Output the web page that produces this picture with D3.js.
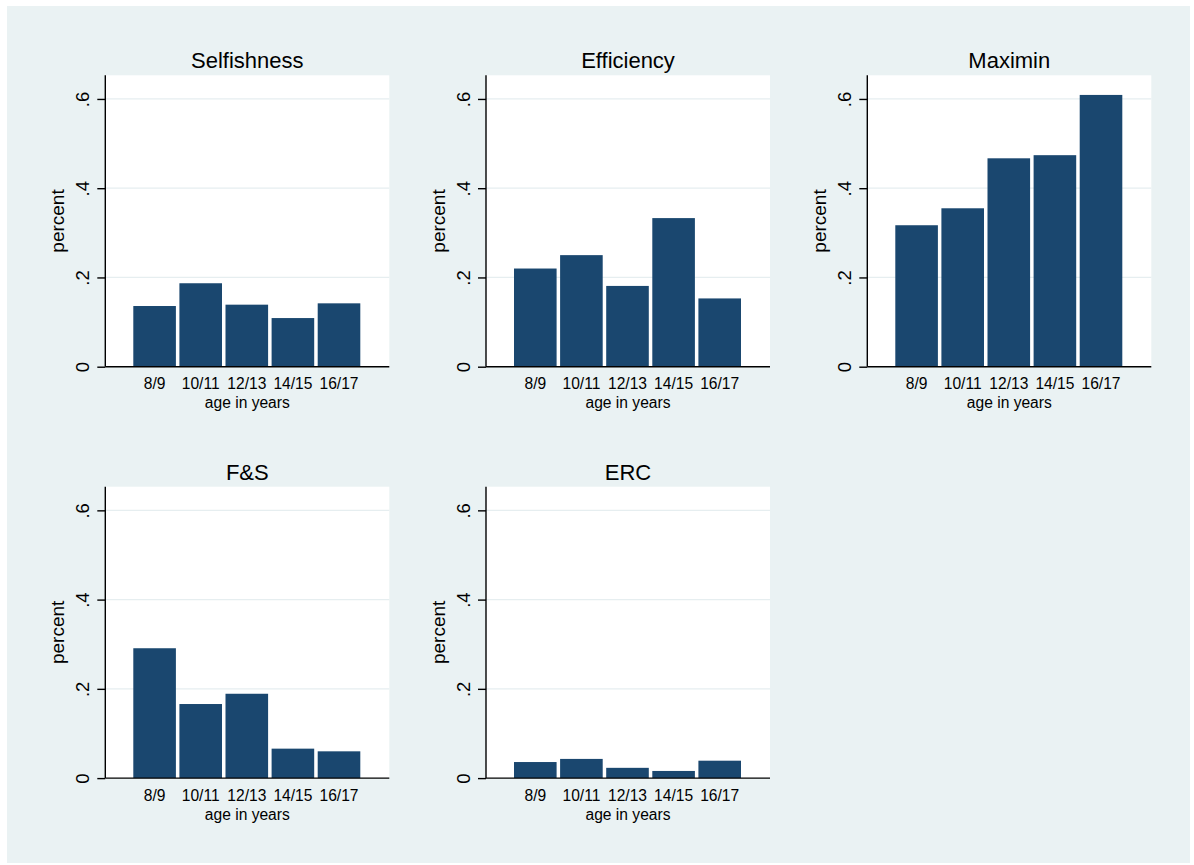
<!DOCTYPE html>
<html>
<head>
<meta charset="utf-8">
<script src="https://cdnjs.cloudflare.com/ajax/libs/d3/7.8.5/d3.min.js"></script>
<style>
body { margin: 0; background: #ffffff; }
text { font-family: "Liberation Sans", Arial, sans-serif; fill: #000; }
</style>
</head>
<body>
<div id="chart"></div>
<script>
var categories = ["8/9", "10/11", "12/13", "14/15", "16/17"];
var panelTitles = ["Selfishness", "Efficiency", "Maximin", "F&S", "ERC"];
var selfishness = [0.136, 0.187, 0.139, 0.109, 0.142];
var efficiency = [0.220, 0.250, 0.181, 0.333, 0.153];
var maximin = [0.317, 0.355, 0.467, 0.474, 0.609];
var fs = [0.291, 0.166, 0.189, 0.066, 0.060];
var erc = [0.036, 0.043, 0.023, 0.016, 0.039];
var yTicks = [0, 0.2, 0.4, 0.6];
var yTickLabels = ["0", ".2", ".4", ".6"];

var series = [selfishness, efficiency, maximin, fs, erc];

var width = 1194, height = 865;
var plotW = 284, plotH = 291.4;
var colX = [105.3, 486, 867.3];
var rowY = [75.3, 486.7];

var svg = d3.select("#chart").append("svg")
  .attr("width", width)
  .attr("height", height);

// graph region
svg.append("rect")
  .attr("x", 7)
  .attr("y", 6)
  .attr("width", 1183)
  .attr("height", 857)
  .attr("fill", "#eaf2f3");

var x = d3.scaleBand()
  .domain(categories)
  .range([28, 255])
  .paddingInner(0.076)
  .paddingOuter(0);

var y = d3.scaleLinear()
  .domain([0, 0.653])
  .range([plotH, 0]);

series.forEach(function (vals, i) {
  var g = svg.append("g")
    .attr("transform", "translate(" + colX[i % 3] + "," + rowY[Math.floor(i / 3)] + ")");

  g.append("rect")
    .attr("width", plotW)
    .attr("height", plotH)
    .attr("fill", "#ffffff");

  // grid lines
  g.selectAll(".grid")
    .data(yTicks.slice(1))
    .enter().append("line")
    .attr("x1", 0)
    .attr("x2", plotW)
    .attr("y1", function (d) { return y(d); })
    .attr("y2", function (d) { return y(d); })
    .attr("stroke", "#e6eef0")
    .attr("stroke-width", 1.2);

  g.selectAll(".bar")
    .data(vals)
    .enter().append("rect")
    .attr("class", "bar")
    .attr("x", function (d, j) { return x(categories[j]); })
    .attr("y", function (d) { return y(d); })
    .attr("width", x.bandwidth())
    .attr("height", function (d) { return plotH - y(d); })
    .attr("fill", "#1a476f");

  var yAxis = d3.axisLeft(y)
    .tickValues(yTicks)
    .tickSize(8)
    .tickFormat(function (d, k) { return yTickLabels[k]; });

  var ya = g.append("g").call(yAxis);
  ya.select(".domain")
    .attr("d", "M0,0V" + plotH)
    .attr("stroke", "#000")
    .attr("stroke-width", 1.4);
  ya.selectAll(".tick line").attr("stroke", "#000").attr("stroke-width", 1.4);
  ya.selectAll(".tick text")
    .attr("transform", "rotate(-90)")
    .attr("x", 0)
    .attr("y", -16)
    .attr("dy", 0)
    .attr("text-anchor", "middle")
    .style("font-size", "18.5px")
    .style("font-family", "Liberation Sans, Arial, sans-serif");

  var xAxis = d3.axisBottom(x)
    .tickSize(0)
    .tickPadding(0);

  var xa = g.append("g")
    .attr("transform", "translate(0," + plotH + ")")
    .call(xAxis);
  xa.select(".domain")
    .attr("d", "M0,0H" + plotW)
    .attr("stroke", "#000")
    .attr("stroke-width", 1.4);
  xa.selectAll(".tick text")
    .attr("y", 22.6)
    .attr("dy", 0)
    .style("font-size", "15.6px")
    .style("font-family", "Liberation Sans, Arial, sans-serif");

  // titles
  g.append("text")
    .attr("x", plotW / 2)
    .attr("y", -7)
    .attr("text-anchor", "middle")
    .style("font-size", "22px")
    .text(panelTitles[i]);

  g.append("text")
    .attr("x", plotW / 2)
    .attr("y", plotH + 41.6)
    .attr("text-anchor", "middle")
    .style("font-size", "15.6px")
    .text("age in years");

  g.append("text")
    .attr("transform", "rotate(-90)")
    .attr("x", -plotH / 2)
    .attr("y", -41)
    .attr("text-anchor", "middle")
    .style("font-size", "19px")
    .text("percent");
});
</script>
</body>
</html>
